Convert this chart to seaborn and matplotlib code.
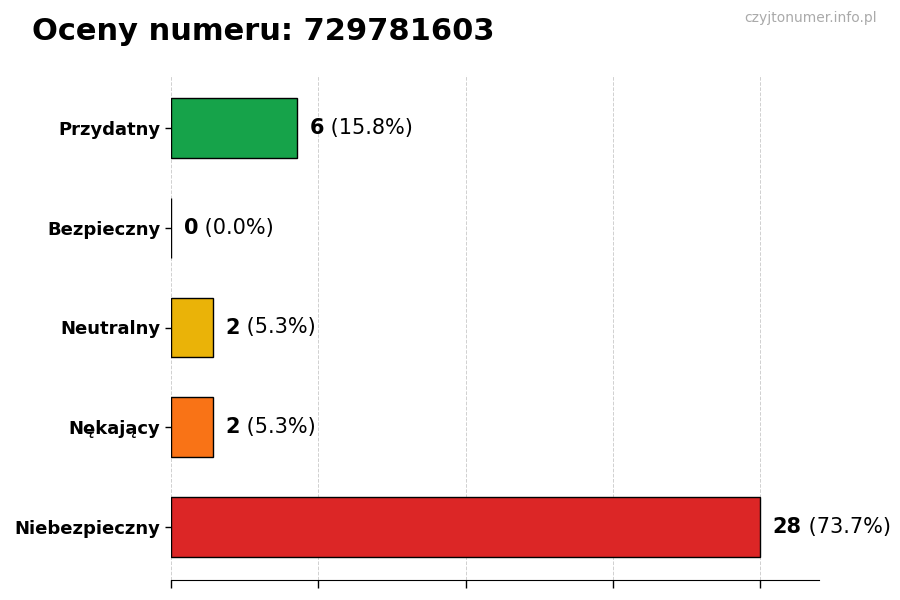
import matplotlib
matplotlib.use("Agg")
import matplotlib.pyplot as plt
import seaborn as sns
import pandas as pd

# data
categories = ["Przydatny", "Bezpieczny", "Neutralny", "Nękający", "Niebezpieczny"]
counts = [6, 0, 2, 2, 28]
colors = ["#16a34a", "#3b82f6", "#eab308", "#f97316", "#dc2626"]
phone = "729781603"
xticks = [0, 7, 14, 21, 28]

total = sum(counts)
df = pd.DataFrame({"kategoria": categories, "liczba": counts})

sns.set_style("white")
plt.rcParams['font.family'] = ['DejaVu Sans']
plt.rcParams['text.color'] = 'black'
plt.rcParams['axes.labelcolor'] = 'black'
plt.rcParams['xtick.color'] = 'black'
plt.rcParams['ytick.color'] = 'black'

fig = plt.figure(figsize=(9, 6), dpi=100)
ax = fig.add_axes([0.19, 1 - 580 / 600, 0.72, 505 / 600])

sns.barplot(data=df, x="liczba", y="kategoria", hue="kategoria",
            palette=colors, legend=False, width=0.6,
            edgecolor="black", linewidth=1, saturation=1, ax=ax)

xmax = max(counts) * 1.1
ax.set_xlim(0, xmax)
ax.set_ylim(4.53, -0.53)
ax.set_xticks(xticks)
ax.tick_params(axis="x", bottom=True, labelbottom=False, length=6,
               width=1, color="black")
ax.tick_params(axis="y", left=True, length=4, width=1, color="black")
ax.xaxis.grid(True, linestyle="--", color="#d0d0d0", linewidth=0.7)
ax.set_axisbelow(True)
ax.set_xlabel("")
ax.set_ylabel("")
for lbl in ax.get_yticklabels():
    lbl.set_fontweight("bold")
    lbl.set_fontsize(13)
    lbl.set_color("black")

sns.despine(ax=ax, left=True)
ax.spines["bottom"].set_color("black")

# value labels: bold count + normal percentage
for i, c in enumerate(counts):
    pct = c / total * 100
    t = ax.text(c + 0.6, i, f"{c}", fontsize=15, fontweight="bold",
                va="center", ha="left", color="black")
    ax.annotate(f" ({pct:.1f}%)", xy=(1, 0.5), xycoords=t,
                va="center", ha="left", fontsize=15, color="black")

fig.text(0.036, 0.947, f"Oceny numeru: {phone}", fontsize=22,
         fontweight="bold", va="center", ha="left", color="black")
fig.text(0.974, 0.970, "czyjtonumer.info.pl", fontsize=10,
         color="#aaaaaa", va="center", ha="right")

fig.savefig("out.png", dpi=100)
